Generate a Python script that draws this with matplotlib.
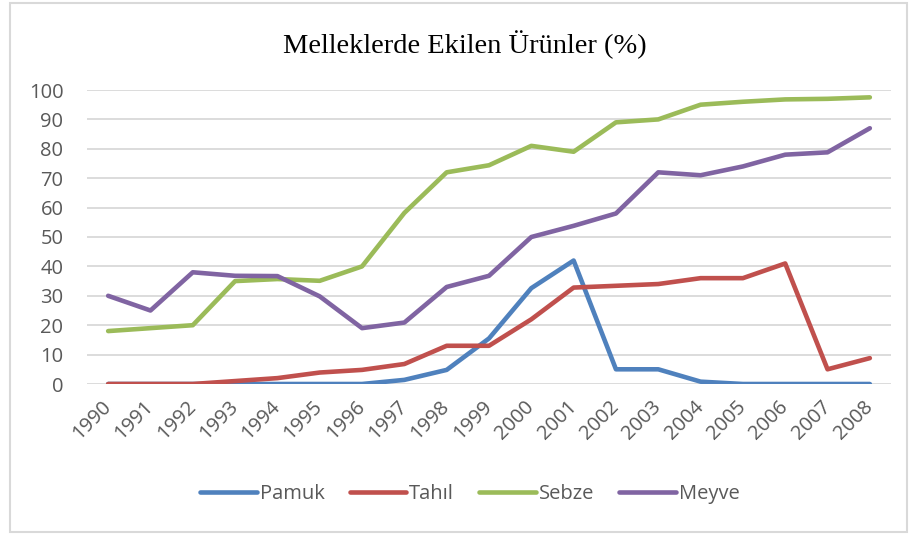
import numpy as np
import matplotlib
matplotlib.use('Agg')
import matplotlib.pyplot as plt
from matplotlib.patches import Rectangle

# data
years = [str(y) for y in range(1990, 2009)]
pamuk = [0, 0, 0, 0, 0, 0, 0, 1.4, 4.8, 15.5, 32.6, 42, 5, 5, 0.8, 0, 0, 0, 0]
tahil = [0, 0, 0, 1, 2, 3.9, 4.8, 6.8, 13, 13, 22, 32.8, 33.4, 34, 36, 36, 41, 5, 8.8]
sebze = [18, 19, 20, 35, 35.7, 35.1, 40, 58.2, 72, 74.4, 81, 79, 89, 90, 95, 96, 96.8, 97, 97.5]
meyve = [30, 25, 38, 36.8, 36.7, 29.8, 19, 20.9, 33, 36.8, 50, 53.8, 58, 72, 71, 74, 78, 78.8, 87]

series_names = ['Pamuk', 'Tahıl', 'Sebze', 'Meyve']
colors = ['#4F81BD', '#C0504D', '#9BBB59', '#8064A2']
yticks = list(range(0, 101, 10))

W, H = 911, 535
fig = plt.figure(figsize=(W / 100, H / 100), dpi=100)
ax = fig.add_axes([87 / W, 1 - 384 / H, (891 - 87) / W, (384 - 90) / H])

x = np.arange(len(years))
for vals, name, c in zip([pamuk, tahil, sebze, meyve], series_names, colors):
    ax.plot(x, vals, color=c, lw=3.3, label=name, solid_capstyle='round', solid_joinstyle='round', zorder=3)

ax.set_xlim(-0.5, len(years) - 0.5)
ax.set_ylim(0, 100)
ax.set_yticks(yticks)
ax.set_xticks(x)
txt_col = '#595959'
fs = 14.5
ax.set_yticklabels([str(t) for t in yticks], fontsize=fs, color=txt_col, family='Open Sans')
ax.set_xticklabels(years, rotation=45, ha='right', va='center', rotation_mode='anchor',
                   fontsize=fs, color=txt_col, family='Open Sans')
ax.tick_params(axis='y', length=0, pad=17)
ax.tick_params(axis='x', length=0, pad=14)
ax.grid(axis='y', color='#D9D9D9', lw=1.3, zorder=0)
for s in ax.spines.values():
    s.set_visible(False)

fig.text(465 / W, 1 - 45 / H, 'Melleklerde Ekilen Ürünler (%)', ha='center', va='center',
         fontsize=20.5, family='Liberation Serif', color='black')

leg = fig.legend(loc='center', bbox_to_anchor=(470 / W, 1 - 494 / H), ncol=4, frameon=False,
                 prop={'family': 'Open Sans', 'size': fs}, handlelength=2.8, handletextpad=0.15,
                 columnspacing=1.25)
for t in leg.get_texts():
    t.set_color(txt_col)
for l in leg.get_lines():
    l.set_linewidth(3.3)
    l.set_solid_capstyle('round')

fig.patches.append(Rectangle((10 / W, 3 / H), (907 - 10) / W, (532 - 3) / H, transform=fig.transFigure,
                             fill=False, edgecolor='#D9D9D9', lw=1.5))

fig.savefig('out.png', dpi=100)
